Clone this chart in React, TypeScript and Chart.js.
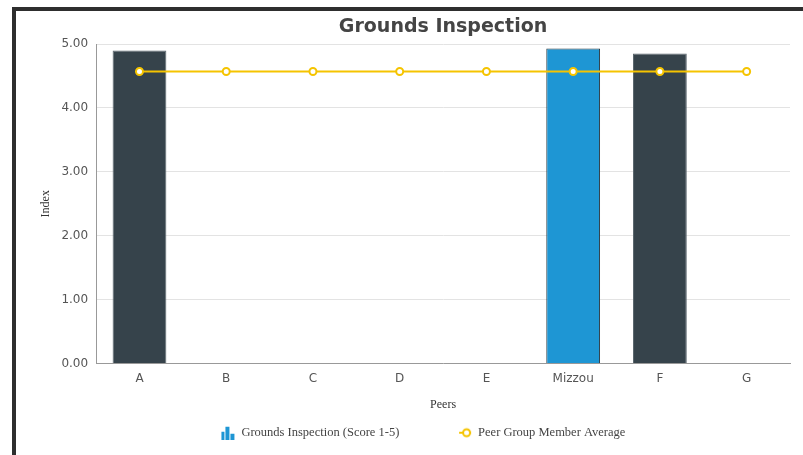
import React, { useEffect, useRef } from "react";
import { Chart, registerables } from "chart.js";

Chart.register(...registerables);

const categories = ["A", "B", "C", "D", "E", "Mizzou", "F", "G"];
const scores = [4.9, null, null, null, null, 4.93, 4.85, null];
const peerAverage = [4.57, 4.57, 4.57, 4.57, 4.57, 4.57, 4.57, 4.57];
const yTicks = [0, 1, 2, 3, 4, 5];

const DARK = "#36434b";
const BLUE = "#1e96d4";
const YELLOW = "#f5c400";

const ICON_BOX = 31.5;
const ICON_CANVAS = 36;

function makeBarIcon() {
  const c = document.createElement("canvas");
  c.width = ICON_CANVAS;
  c.height = 14;
  const g = c.getContext("2d")!;
  g.fillStyle = BLUE;
  const x0 = 20;
  g.fillRect(x0, 6, 3, 8);
  g.fillRect(x0 + 4, 1, 4, 13);
  g.fillRect(x0 + 9, 8, 4, 6);
  return c;
}

function makeLineIcon() {
  const c = document.createElement("canvas");
  c.width = ICON_CANVAS;
  c.height = 12;
  const g = c.getContext("2d")!;
  g.strokeStyle = YELLOW;
  g.lineWidth = 2;
  g.beginPath();
  g.moveTo(21, 6);
  g.lineTo(33, 6);
  g.stroke();
  g.fillStyle = "#fff";
  g.beginPath();
  g.arc(28.5, 6, 3.5, 0, Math.PI * 2);
  g.fill();
  g.stroke();
  return c;
}

export default function App() {
  const ref = useRef<HTMLCanvasElement | null>(null);

  useEffect(() => {
    if (!ref.current) return;
    const barIcon = makeBarIcon();
    const lineIcon = makeLineIcon();
    const chart = new Chart(ref.current, {
      type: "bar",
      data: {
        labels: categories,
        datasets: [
          {
            type: "line",
            label: "Peer Group Member Average",
            data: peerAverage,
            borderColor: YELLOW,
            borderWidth: 2,
            pointRadius: 3.5,
            pointBorderWidth: 2,
            pointBackgroundColor: "#ffffff",
            pointBorderColor: YELLOW,
            fill: false,
            order: 0,
          } as any,
          {
            type: "bar",
            label: "Grounds Inspection (Score 1-5)",
            data: scores as any,
            backgroundColor: categories.map((c) => (c === "Mizzou" ? BLUE : DARK)),
            borderColor: categories.map((c) => (c === "Mizzou" ? "#2a3840" : "#5a666d")),
            borderWidth: 1,
            barPercentage: 0.62,
            categoryPercentage: 1,
            order: 1,
          } as any,
        ],
      },
      options: {
        animation: false,
        responsive: false,
        maintainAspectRatio: false,
        layout: { padding: { left: 23, right: 42, top: 0, bottom: 6 } },
        plugins: {
          title: {
            display: true,
            text: "Grounds Inspection",
            fullSize: false,
            color: "#444",
            font: { family: "'DejaVu Sans'", size: 19, weight: "bold" },
            padding: { top: 4.4, bottom: 5.8 },
          },
          legend: {
            position: "bottom",
            fullSize: true,
            labels: {
              usePointStyle: true,
              pointStyleWidth: ICON_BOX,
              color: "#444",
              font: { family: "'Liberation Serif'", size: 12.5 },
              padding: 41,
              generateLabels: () => [
                {
                  text: "Grounds Inspection (Score 1-5)",
                  pointStyle: barIcon,
                  datasetIndex: 1,
                  hidden: false,
                  fontColor: "#444",
                  lineWidth: 0,
                },
                {
                  text: "Peer Group Member Average",
                  pointStyle: lineIcon,
                  datasetIndex: 0,
                  hidden: false,
                  fontColor: "#444",
                  lineWidth: 0,
                },
              ],
            },
          },
          tooltip: { enabled: false },
        },
        scales: {
          x: {
            grid: { display: false, drawTicks: false },
            border: { display: true, color: "#999" },
            ticks: {
              color: "#555",
              font: { family: "'DejaVu Sans'", size: 12 },
              padding: 8,
            },
            title: {
              display: true,
              text: "Peers",
              color: "#333",
              font: { family: "'Liberation Serif'", size: 12 },
              padding: { top: 4.2, bottom: -27 },
            },
          },
          y: {
            min: 0,
            max: 5,
            afterBuildTicks: (axis: any) => {
              axis.ticks = yTicks.map((v) => ({ value: v }));
            },
            grid: { color: "#e3e3e3", drawTicks: false },
            border: { display: true, color: "#999" },
            ticks: {
              color: "#555",
              font: { family: "'DejaVu Sans'", size: 12 },
              padding: 8,
              callback: (v: any) => Number(v).toFixed(2),
            },
            title: {
              display: true,
              text: "Index",
              color: "#333",
              font: { family: "'Liberation Serif'", size: 12 },
              padding: { top: 0, bottom: 0 },
            },
          },
        },
      },
    });
    return () => chart.destroy();
  }, []);

  return (
    <div
      style={{
        position: "fixed",
        left: 0,
        top: 0,
        width: 803,
        height: 455,
        overflow: "hidden",
        background: "#fff",
      }}
    >
      <div
        style={{
          position: "absolute",
          left: 12,
          top: 7,
          width: 900,
          height: 500,
          borderLeft: "4px solid #2e2e2e",
          borderTop: "4px solid #2e2e2e",
        }}
      />
      <canvas
        ref={ref}
        width={816}
        height={444}
        style={{ position: "absolute", left: 16, top: 11, width: 816, height: 444 }}
      />
    </div>
  );
}
